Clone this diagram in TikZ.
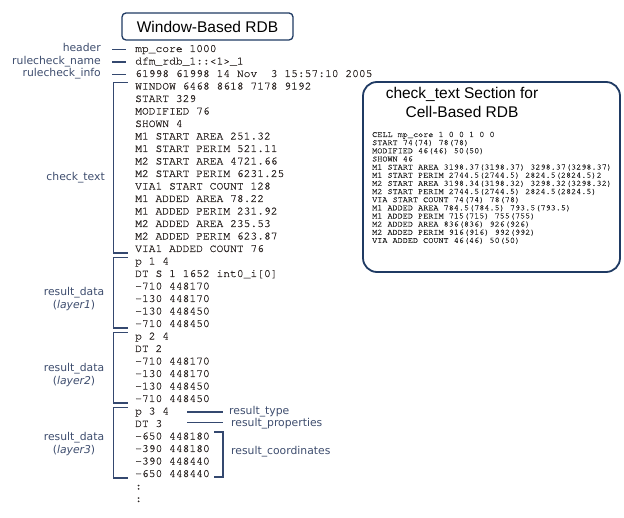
\documentclass[tikz,border=0pt]{standalone}
\usepackage{fontspec}
\setmainfont{Liberation Sans}
\setmonofont[FakeBold=0.7]{TeX Gyre Cursor}
\newfontfamily\lblfont{DejaVu Sans}
\definecolor{boxnavy}{HTML}{1F3A63}
\definecolor{brknavy}{HTML}{34486F}
\definecolor{lblblue}{HTML}{3E4D6E}
\definecolor{codegray}{HTML}{2E2826}

\begin{document}
\begin{tikzpicture}[x=1pt,y=-1pt,
    code/.style={anchor=base west,inner sep=0pt,text=codegray,font=\ttfamily\fontsize{11.3}{12}\selectfont},
    smallcode/.style={anchor=base west,inner sep=0pt,text=black!85,font=\ttfamily\fontsize{8.5}{9}\selectfont},
    lbl/.style={inner sep=0pt,text=lblblue,align=center,font=\lblfont\fontsize{10.8}{13.5}\selectfont},
    brk/.style={draw=brknavy,line width=1.5pt},
    titlefont/.style={font=\fontsize{15.5}{19}\selectfont}]
    \useasboundingbox (0,0) rectangle (624,518);

    % window-based rdb
    \node[draw=boxnavy,line width=1.3pt,rounded corners=4pt,minimum width=171pt,minimum height=27pt,titlefont] (wtitle) at (207.5,26.5) {Window-Based RDB};

    \foreach \txt [count=\i from 0] in {mp\_core 1000, dfm\_rdb\_1::<1>\_1, 61998 61998 14 Nov~~3 15:57:10 2005,
        WINDOW 6468 8618 7178 9192, START 329, MODIFIED 76, SHOWN 4,
        M1 START AREA 251.32, M1 START PERIM 521.11, M2 START AREA 4721.66, M2 START PERIM 6231.25,
        VIA1 START COUNT 128, M1 ADDED AREA 78.22, M1 ADDED PERIM 231.92, M2 ADDED AREA 235.53,
        M2 ADDED PERIM 623.87, VIA1 ADDED COUNT 76,
        p 1 4, DT S 1 1652 int0\_i[0], -710 448170, -130 448170, -130 448450, -710 448450,
        p 2 4, DT 2, -710 448170, -130 448170, -130 448450, -710 448450,
        p 3 4, DT 3, -650 448180, -390 448180, -390 448440, -650 448440, :, :}
    {
        \node[code] (line-\i) at (135,{52+12.5*\i}) {\txt};
    }

    % header labels
    \foreach \i/\name in {0/header, 1/rulecheck\_name, 2/rulecheck\_info}
    {
        \node[lbl,anchor=base east] (lbl-\i) at ([xshift=-34pt]line-\i.base west) {\name};
        \draw[brk] ([xshift=11pt,yshift=2.5pt]lbl-\i.base east) -- ([xshift=-9pt,yshift=2.5pt]line-\i.base west);
    }

    % brackets
    \foreach \a/\b in {3/16,17/22,23/28,29/34}
    {
        \draw[brk] ([xshift=-7.5pt,yshift=7pt]line-\a.base west) -| ([xshift=-21.5pt,yshift=-1pt]line-\b.base west) -- ([xshift=-7.5pt,yshift=-1pt]line-\b.base west);
    }
    \node[lbl,anchor=base east] (checklbl) at (105,181) {check\_text};
    \node[lbl] (layer-1) at (74,299) {result\_data\\(\textit{layer1})};
    \node[lbl] (layer-2) at (74,375) {result\_data\\(\textit{layer2})};
    \node[lbl] (layer-3) at (74,444) {result\_data\\(\textit{layer3})};

    % right side labels
    \node[lbl,anchor=base west] (rtype) at ([xshift=94pt]line-29.base west) {result\_type};
    \node[lbl,anchor=base west] (rprop) at ([xshift=96pt]line-30.base west) {result\_properties};
    \node[lbl,anchor=base west] (rcoord) at (231,455) {result\_coordinates};
    \draw[brk] ([xshift=52pt,yshift=2.5pt]line-29.base west) -- ([xshift=-6pt,yshift=2.5pt]rtype.base west);
    \draw[brk] ([xshift=52pt,yshift=4.5pt]line-30.base west) -- ([xshift=-8pt,yshift=4.5pt]rprop.base west);
    \draw[brk] ([xshift=79pt,yshift=7.5pt]line-31.base west) -| ([xshift=88pt]line-34.base west) -- ([xshift=79pt]line-34.base west);

    % cell-based rdb
    \node[draw=boxnavy,line width=1.8pt,rounded corners=14pt,minimum width=257pt,minimum height=190pt] (cellbox) at (491.5,177) {};
    \node[titlefont,anchor=base,inner sep=0pt] (ctitle-1) at (462,99) {check\_text Section for};
    \node[titlefont,anchor=base,inner sep=0pt] (ctitle-2) at (462,118) {Cell-Based RDB};
    \foreach \txt [count=\i from 0] in {CELL mp\_core 1 0 0 1 0 0, START 74(74) 78(78), MODIFIED 46(46) 50(50), SHOWN 46,
        M1 START AREA 3198.37(3198.37) 3298.37(3298.37), M1 START PERIM 2744.5(2744.5) 2824.5(2824.5)2,
        M2 START AREA 3198.34(3198.32) 3298.32(3298.32), M2 START PERIM 2744.5(2744.5) 2824.5(2824.5),
        VIA START COUNT 74(74) 78(78), M1 ADDED AREA 784.5(784.5) 793.5(793.5), M1 ADDED PERIM 715(715) 755(755),
        M2 ADDED AREA 836(836) 926(926), M2 ADDED PERIM 916(916) 992(992), VIA ADDED COUNT 46(46) 50(50)}
    {
        \node[smallcode] (cell-\i) at (372,{137+8.15*\i}) {\txt};
    }
\end{tikzpicture}
\end{document}
